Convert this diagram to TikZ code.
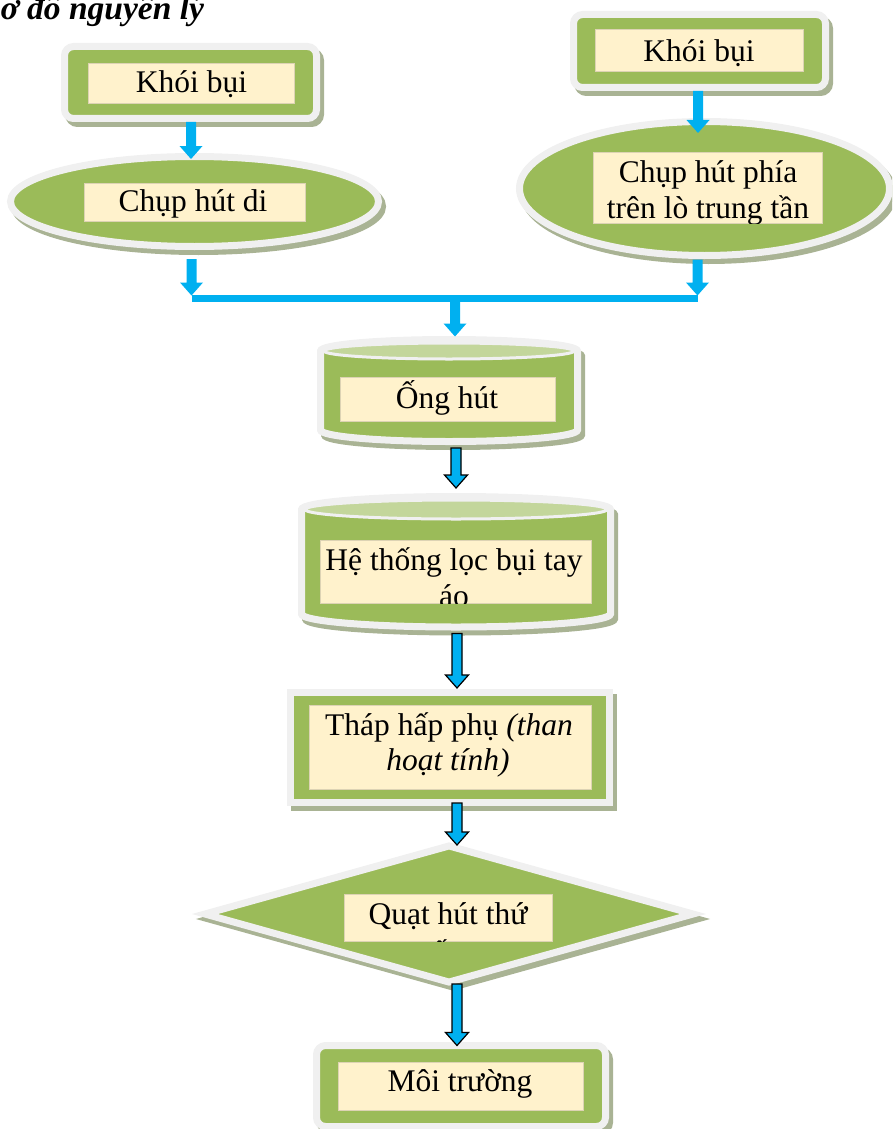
\documentclass[tikz,border=0pt]{standalone}
\usepackage{fontspec}
\setmainfont{Liberation Serif}
\usetikzlibrary{shapes.geometric,calc}

\definecolor{leaf}{HTML}{9BBB59}
\definecolor{rim}{HTML}{F0F0F0}
\definecolor{shade}{HTML}{A9B394}
\definecolor{paper}{HTML}{FFF2CC}
\definecolor{paperedge}{HTML}{DDD3B4}
\definecolor{lid}{HTML}{C3D69B}
\definecolor{flow}{HTML}{00B0F0}

\tikzset{
  body/.style={fill=leaf, draw=rim, line width=7pt, inner sep=0pt,
    preaction={draw=shade, fill=shade, line width=7pt,
      transform canvas={shift={(4pt,-5pt)}}}},
  lidtop/.style={fill=lid, draw=rim, line width=3pt},
  hold/.style={inner sep=0pt, outer sep=0pt},
  paperbox/.style={fill=paper, draw=paperedge, line width=0.6pt, inner sep=0pt},
  words/.style={anchor=base, inner sep=0pt, font=\fontsize{31.5}{36}\selectfont},
  flowarrow/.style={fill=flow, line join=miter,
    to path={let \p1=(\tikztostart), \p2=(\tikztotarget) in
      (\x1-5pt,\y1) -- (\x1+5pt,\y1) -- (\x1+5pt,\y2+13pt) -- (\x1+11.5pt,\y2+13pt)
      -- (\x1,\y2) -- (\x1-11.5pt,\y2+13pt) -- (\x1-5pt,\y2+13pt) -- cycle}},
  edged/.style={draw=black, line width=1.2pt}
}

\begin{document}
\begin{tikzpicture}[x=1pt,y=-1pt]
\useasboundingbox (0,0) rectangle (892,1129);
\clip (0,0) rectangle (892,1129);

% heading
\node[anchor=base west, inner sep=0pt, font=\fontsize{33.5}{36}\selectfont\bfseries\itshape]
  (title) at (-18,20) {Sơ đồ nguyên lý};

% two sources of fumes
\node[body, rounded corners=9pt, minimum width=252pt, minimum height=72pt] (smoke1) at (190.5,82.5) {};
\node[body, rounded corners=9pt, minimum width=252pt, minimum height=73pt] (smoke2) at (699.5,51) {};

% the two hoods
\node[body, ellipse, minimum width=368pt, minimum height=90pt] (hood1) at (194.5,201.5) {};
\node[body, ellipse, minimum width=370pt, minimum height=134pt] (hood2) at (704.5,188.5) {};

% suction pipe (cylinder)
\path[body] (320.5,351) arc[start angle=180, end angle=0, x radius=128.5pt, y radius=11.5pt]
  -- (577.5,430) arc[start angle=0, end angle=-180, x radius=128.5pt, y radius=11.5pt] -- cycle;
\path[lidtop] (449,351) ellipse[x radius=125pt, y radius=8pt];
\node[hold, minimum width=264pt, minimum height=109pt] (pipe) at (449,390.5) {};

% bag filter (cylinder)
\path[body] (301.5,509.5) arc[start angle=180, end angle=0, x radius=154.5pt, y radius=13pt]
  -- (610.5,614) arc[start angle=0, end angle=-180, x radius=154.5pt, y radius=13pt] -- cycle;
\path[lidtop] (456,509.5) ellipse[x radius=151pt, y radius=9.5pt];
\node[hold, minimum width=316pt, minimum height=137.5pt] (filter) at (456,561.75) {};

% adsorption tower
\node[body, minimum width=319pt, minimum height=110pt] (tower) at (450,747.5) {};

% fan
\node[body, diamond, minimum width=491pt, minimum height=139pt] (fan) at (449,914) {};

% outlet
\node[body, rounded corners=9pt, minimum width=289pt, minimum height=81pt] (env) at (461,1086) {};

% labels
\node[paperbox, minimum width=206pt, minimum height=40pt] (smoke1t) at (191,83) {};
\node[words] (smoke1w) at (191.5,92.7) {Khói bụi};

\node[paperbox, minimum width=208pt, minimum height=42pt] (smoke2t) at (699,50) {};
\node[words] (smoke2w) at (699,61.7) {Khói bụi};

\node[paperbox, minimum width=221pt, minimum height=38pt] (hood1t) at (194.5,202) {};
\node[words] (hood1w) at (193,211.7) {Chụp hút di};

\node[paperbox, minimum width=229pt, minimum height=71pt] (hood2t) at (707.5,187.5) {};
\begin{scope}
  \clip (hood2t.south west) rectangle (hood2t.north east);
  \node[words] (hood2w1) at (708,182) {Chụp hút phía};
  \node[words] (hood2w2) at (708,218) {trên lò trung tần};
\end{scope}

\node[paperbox, minimum width=215pt, minimum height=44pt] (pipet) at (447.5,399) {};
\node[words] (pipew) at (447,408) {Ống hút};

\node[paperbox, minimum width=271pt, minimum height=63pt] (filtert) at (455.5,571.5) {};
\begin{scope}
  \clip (filtert.south west) rectangle (filtert.north east);
  \node[words] (filterw1) at (454,570) {Hệ thống lọc bụi tay};
  \node[words] (filterw2) at (454,606) {áo};
\end{scope}

\node[paperbox, minimum width=282pt, minimum height=84pt] (towert) at (450,747) {};
\node[words] (towerw1) at (449,735) {Tháp hấp phụ \textit{(than}};
\node[words] (towerw2) at (448,770) {\textit{hoạt tính)}};

\node[paperbox, minimum width=208pt, minimum height=47pt] (fant) at (448.6,918) {};
\begin{scope}
  \clip (fant.south west) rectangle (fant.north east);
  \node[words] (fanw1) at (448,924) {Quạt hút thứ};
  \node[words] (fanw2) at (440,962) {cấp};
\end{scope}

\node[paperbox, minimum width=245pt, minimum height=48pt] (envt) at (460.5,1086) {};
\node[words] (envw) at (460,1091.7) {Môi trường};

% collector bar
\coordinate (jl) at (191.5,298.5);
\coordinate (jr) at (697.5,298.5);
\coordinate (jm) at (455,298.5);
\draw[flow, line width=7.5pt] (jl) -- (jr);

% flow arrows
\path[flowarrow] ($(smoke1.south)+(0.5,0)$) to ($(smoke1.south |- hood1.north)+(0.5,6)$);
\path[flowarrow] ($(smoke2.south)+(-1.5,0)$) to ($(smoke2.south |- hood2.north)+(-1.5,15)$);
\path[flowarrow] ($(hood1.south -| jl)+(0,9)$) to ($(jl)+(0,-3)$);
\path[flowarrow] ($(hood2.south -| jr)+(0,0.5)$) to ($(jr)+(0,-3)$);
\path[flowarrow] (jm) to ($(jm |- pipe.north)+(0,0.5)$);
\path[flowarrow, edged] ($(pipe.south)+(7,3)$) to ($(pipe.south |- filter.north)+(7,-5)$);
\path[flowarrow, edged] ($(filter.south)+(1,3)$) to ($(filter.south |- tower.north)+(1,-1)$);
\path[flowarrow, edged] ($(tower.south)+(7,-3)$) to ($(tower.south |- fan.north)+(7,4)$);
\path[flowarrow, edged] ($(fan.south)+(8,-3)$) to ($(fan.south |- env.north)+(8,3.5)$);
\end{tikzpicture}
\end{document}
